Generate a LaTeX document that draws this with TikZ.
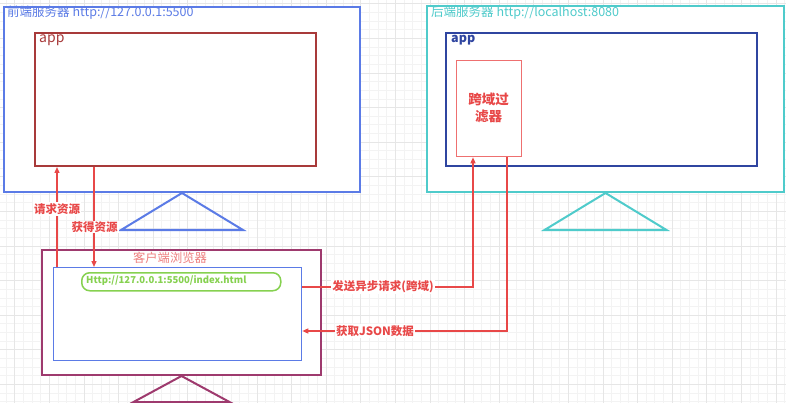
\documentclass[tikz,border=0pt]{standalone}
\usepackage{fontspec}
\setmainfont{Noto Sans CJK SC}
\usetikzlibrary{arrows.meta,calc}
\definecolor{fblue}{HTML}{5B7BE6}
\definecolor{appred}{HTML}{A83A3A}
\definecolor{tealc}{HTML}{4FCBCB}
\definecolor{navy}{HTML}{2F45A0}
\definecolor{salmon}{HTML}{EE7070}
\definecolor{purp}{HTML}{9E3A6E}
\definecolor{lred}{HTML}{E84848}
\definecolor{urlgreen}{HTML}{86D150}
\definecolor{clientlbl}{HTML}{EE8080}
\definecolor{gminor}{HTML}{F3F3F3}
\definecolor{gmajor}{HTML}{E6E6E6}
\begin{document}
\begin{tikzpicture}[x=1pt,y=-1pt,
  box/.style={draw, anchor=north west, inner sep=0pt, line width=2pt},
  ttl/.style={anchor=west, inner sep=0pt, font=\fontsize{12.5}{14}\selectfont},
  arr/.style={draw=lred, line width=1.3pt, -{Triangle[length=6pt,width=5pt]}},
  lbl/.style={fill=white, inner sep=1pt, text=lred, font=\bfseries\fontsize{11.5}{13}\selectfont}]
\useasboundingbox (0,0) rectangle (786,403);
\fill[white] (0,0) rectangle (786,403);
% grid
\foreach \k in {-1,...,89} {\pgfmathsetmacro\xx{14.7+\k*8.65}
  \draw[gminor, line width=0.8pt] (\xx,0) -- (\xx,403);}
\foreach \k in {0,...,46} {\pgfmathsetmacro\yy{3.8+\k*8.65}
  \draw[gminor, line width=0.8pt] (0,\yy) -- (786,\yy);}
\foreach \k in {0,...,22} {\pgfmathsetmacro\xx{14.7+\k*34.6}
  \draw[gmajor, line width=0.8pt] (\xx,0) -- (\xx,403);}
\foreach \k in {0,...,11} {\pgfmathsetmacro\yy{3.8+\k*34.6}
  \draw[gmajor, line width=0.8pt] (0,\yy) -- (786,\yy);}
% front-end server
\node[box, draw=fblue, fill=white, minimum width=356pt, minimum height=185pt] (fs) at (3,6) {};
\node[ttl, text=fblue] (fst) at (7,13) {前端服务器 http://127.0.0.1:5500};
\node[box, draw=appred, minimum width=281pt, minimum height=133pt] (fapp) at (34,32) {};
\node[ttl, text=appred, font=\fontsize{14}{16}\selectfont] (fappt) at (39,40) {app};
\draw[fblue, line width=2pt, line join=miter] (fs.south) -- ++(-61,37) -- ++(122,0) -- cycle;
% back-end server
\node[box, draw=tealc, fill=white, minimum width=357pt, minimum height=186pt] (bs) at (426,5) {};
\node[ttl, text=tealc] (bst) at (431,13) {后端服务器 http://localhost:8080};
\node[box, draw=navy, minimum width=311pt, minimum height=133pt] (bapp) at (445,32) {};
\node[ttl, text=navy, font=\bfseries\fontsize{12.5}{14}\selectfont] (bappt) at (451,40) {app};
\node[box, draw=salmon, line width=1.3pt, minimum width=65pt, minimum height=96pt] (filter) at (456,60) {};
\node[text=lred, align=center, inner sep=0pt, font=\bfseries\fontsize{13.5}{17}\selectfont] (filtert) at (488.5,108) {跨域过\\滤器};
\draw[tealc, line width=2pt, line join=miter] (bs.south) -- ++(-61,37) -- ++(122,0) -- cycle;
% client browser
\node[box, draw=purp, fill=white, minimum width=279pt, minimum height=125pt] (client) at (41,249) {};
\node[inner sep=0pt, text=clientlbl, font=\fontsize{12.3}{14}\selectfont] (clientt) at (170,258) {客户端浏览器};
\node[box, draw=fblue, line width=1.3pt, minimum width=248pt, minimum height=93pt] (inner) at (53,267) {};
\node[box, draw=urlgreen, line width=1.5pt, rounded corners=8pt, minimum width=199pt, minimum height=18pt] (url) at (81,272) {};
\node[anchor=west, inner sep=0pt, text=urlgreen, font=\bfseries\fontsize{9.5}{11}\selectfont] (urlt) at (86,281) {Http://127.0.0.1:5500/index.html};
\draw[purp, line width=2pt, line join=miter] (client.south) -- ++(-48,26) -- ++(96,0) -- cycle;
% connectors
\draw[arr] (inner.north -| 57,0) -- (fapp.south -| 57,0);
\node[lbl] (l1) at (57,209) {请求资源};
\draw[arr] (fapp.south -| 94,0) -- (inner.north -| 94,0);
\node[lbl] (l2) at (94.5,227) {获得资源};
\draw[arr] (inner.east |- 0,287) -- (473,287) -- (filter.south -| 473,0);
\node[lbl] (l3) at (383,287) {发送异步请求(跨域)};
\draw[arr] (filter.south -| 507,0) -- (507,331) -- (inner.east |- 0,331);
\node[lbl] (l4) at (375,331) {获取JSON数据};
\end{tikzpicture}
\end{document}
